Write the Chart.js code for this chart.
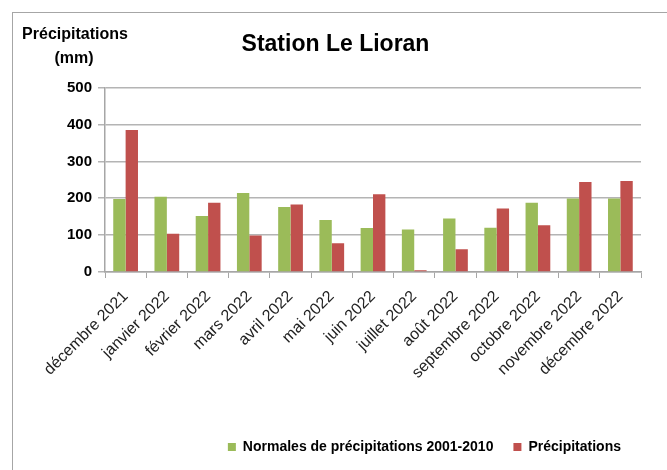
<!DOCTYPE html>
<html lang="fr">
<head>
<meta charset="UTF-8">
<title>Station Le Lioran</title>
<script src="https://cdn.jsdelivr.net/npm/chart.js"></script>
<style>
  html, body { margin: 0; padding: 0; background: #fff; overflow: hidden; }
  .frame {
    position: absolute; left: 12px; top: 12px; width: 700px; height: 500px;
    border: 1px solid #a6a6a6; box-sizing: border-box;
  }
  .wrap { position: absolute; left: 0; top: 0; width: 667px; height: 470px; }
</style>
</head>
<body>
<div class="frame"></div>
<div class="wrap"><canvas id="pluie"></canvas></div>
<script>
const mois = ['décembre 2021', 'janvier 2022', 'février 2022', 'mars 2022', 'avril 2022', 'mai 2022',
  'juin 2022', 'juillet 2022', 'août 2022', 'septembre 2022', 'octobre 2022', 'novembre 2022', 'décembre 2022'];
const normales = [198, 204, 152, 214, 176, 141, 119, 115, 145, 120, 188, 199, 199];
const precipitations = [385, 104, 188, 99, 183, 78, 211, 5, 62, 172, 127, 244, 247];
const yTicks = [0, 100, 200, 300, 400, 500];

const FONT = '"Liberation Sans", Arial, sans-serif';

// titre de l'axe Y, horizontal en haut à gauche
const axisTitle = {
  id: 'axisTitle',
  afterDraw(chart) {
    const ctx = chart.ctx;
    ctx.save();
    ctx.fillStyle = '#000';
    ctx.font = 'bold 16px ' + FONT;
    ctx.textAlign = 'center';
    ctx.textBaseline = 'middle';
    ctx.fillText('Précipitations', 75, 35);
    ctx.fillText('(mm)', 74, 59);
    ctx.restore();
  }
};

new Chart(document.getElementById('pluie'), {
  type: 'bar',
  data: {
    labels: mois,
    datasets: [
      { label: 'Normales de précipitations 2001-2010', data: normales, backgroundColor: '#9bbb59' },
      { label: 'Précipitations', data: precipitations, backgroundColor: '#c0504d' }
    ]
  },
  options: {
    responsive: true,
    maintainAspectRatio: false,
    animation: false,
    categoryPercentage: 0.6,
    barPercentage: 1,
    layout: { padding: { left: 30, right: 26, top: 0, bottom: 6 } },
    plugins: {
      title: {
        display: true,
        text: 'Station Le Lioran',
        color: '#000',
        font: { family: FONT, size: 23, weight: 'bold' },
        padding: { top: 31, bottom: 29 }
      },
      legend: {
        position: 'bottom',
        align: 'end',
        fullSize: false,
        labels: {
          color: '#000',
          font: { family: FONT, size: 14, weight: 'bold' },
          boxWidth: 8,
          boxHeight: 8,
          padding: 20
        }
      },
      tooltip: { enabled: false }
    },
    scales: {
      x: {
        grid: { display: true, drawOnChartArea: false, offset: true, tickLength: 6, color: '#a6a6a6' },
        border: { display: true, color: '#a6a6a6', width: 1.5 },
        ticks: {
          color: '#222',
          font: { family: FONT, size: 16 },
          maxRotation: 45, minRotation: 45,
          padding: 9,
          autoSkip: false
        },
        afterFit(scale) { scale.height = 148; }
      },
      y: {
        min: 0, max: 500,
        afterBuildTicks(scale) { scale.ticks = yTicks.map(v => ({ value: v })); },
        grid: { color: '#b4b4b4', lineWidth: 1.5, tickLength: 7 },
        border: { display: true, color: '#a6a6a6', width: 1.5 },
        ticks: {
          color: '#000',
          font: { family: FONT, size: 15, weight: 'bold' },
          padding: 6
        },
        afterFit(scale) { scale.width = 75; }
      }
    }
  },
  plugins: [axisTitle]
});
</script>
</body>
</html>
